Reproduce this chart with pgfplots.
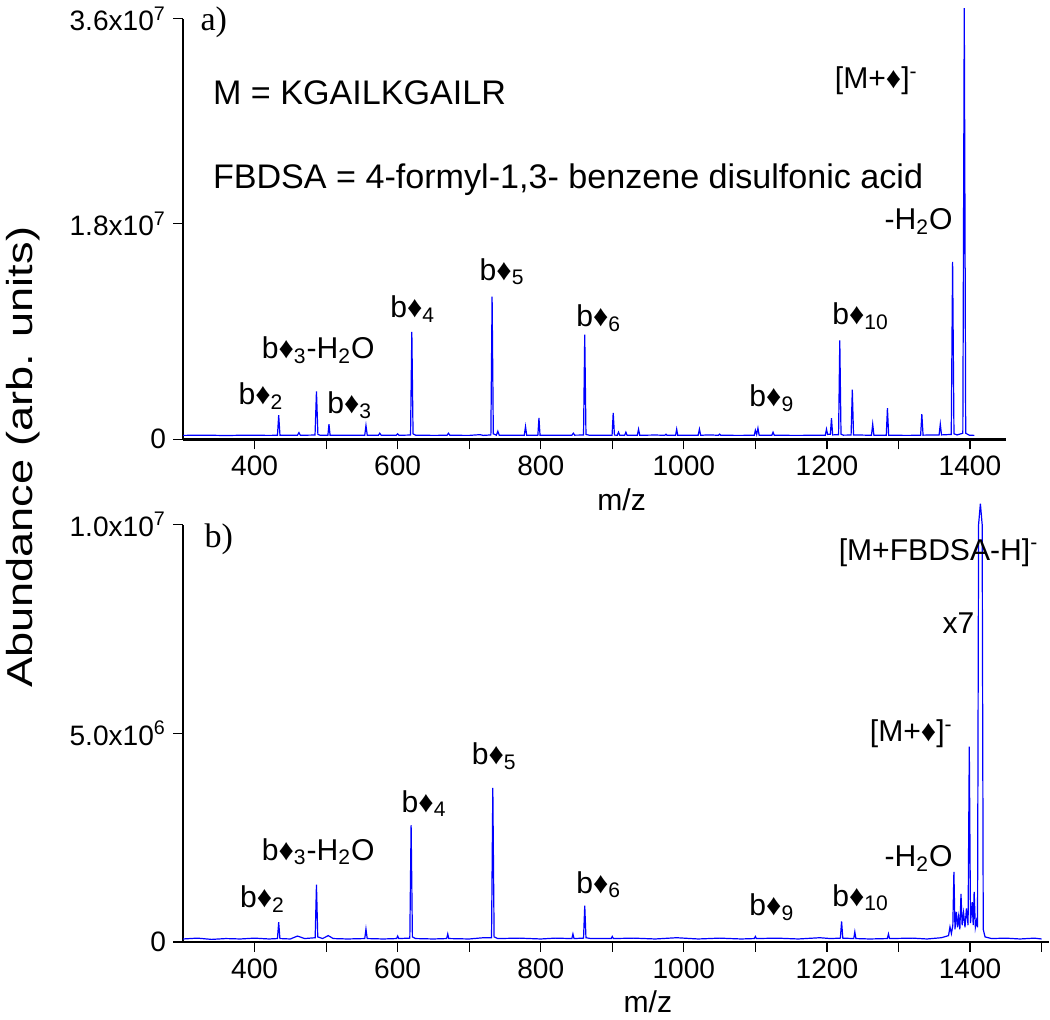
\documentclass[border=0pt]{standalone}
\usepackage{pgfplots}
\pgfplotsset{compat=1.18}
\usepackage{fontspec}
\setmainfont{Liberation Sans}
\newfontfamily\serifft{Liberation Serif}
\newfontfamily\widesans[FakeStretch=1.25]{Liberation Sans}
\newcommand{\tk}{\fontsize{14}{14}\selectfont}
\newcommand{\lb}{\fontsize{15}{15}\selectfont}
\newcommand{\an}{\fontsize{17}{17}\selectfont}
\newcommand{\bd}[1]{b♦\textsubscript{#1}}

\pgfplotsset{
  spec/.style={
    scale only axis, clip=false,
    axis x line*=bottom, axis y line*=left,
    axis line style={line width=1.3pt},
    tick align=outside, major tick length=5pt, minor tick length=5pt,
    every tick/.style={black, line width=0.6pt},
    xtick={400,600,...,1400},
    scaled y ticks=false,
    /pgf/number format/assume math mode=true,
    /pgf/number format/1000 sep={},
    ticklabel style={font=\tk},
    ymin=0,
  },
  trace/.style={blue, line width=0.6pt, no marks, sharp plot},
}

\begin{document}
\begin{tikzpicture}
% ---------- a) ----------
\begin{axis}[spec, at={(0,0)}, anchor=south west,
  width=410pt, height=209.5pt,
  xmin=300, xmax=1450, ymax=3.51e7,
  minor xtick={500,700,...,1300},
  ytick={0,1.8e7,3.51e7},
  yticklabels={0, 1.8x10\textsuperscript{7}, 3.6x10\textsuperscript{7}},
]
\addplot[trace] coordinates {
(300,3.2e5)(330,3.4e5)(360,3.1e5)(390,3.4e5)(420,3.2e5)(432,3.3e5)(433.7,2.0e6)(435.5,3.3e5)
(460,3.4e5)(462,5.5e5)(464,3.3e5)(484.5,3.5e5)(486.5,4.0e6)(488.5,4.0e5)(492,3.3e5)
(502.5,3.4e5)(504,1.26e6)(505.5,3.4e5)(530,3.3e5)(554,3.4e5)(555.7,1.15e6)(557.5,3.4e5)
(573,3.3e5)(575,5.0e5)(577,3.3e5)(598,3.3e5)(600,4.5e5)(602,3.3e5)
(618,3.5e5)(619.8,8.96e6)(621.5,4.5e5)(625,3.4e5)(650,3.2e5)(669,3.3e5)(671,5.0e5)(673,3.3e5)
(700,3.2e5)(715,3.8e5)(720,3.2e5)(730.3,3.6e5)(732,1.19e7)(733.7,4.5e5)(738,3.4e5)(740,6.7e5)(742,3.3e5)
(777,3.3e5)(778.7,1.06e6)(780.4,3.3e5)(796,3.4e5)(797.5,1.78e6)(799,3.3e5)
(843.5,3.4e5)(845.6,5.0e5)(847.5,3.4e5)(859.8,3.5e5)(861.5,8.73e6)(863.2,4.0e5)(868,3.3e5)
(899.7,3.3e5)(901.3,2.2e6)(903,3.5e5)(907,3.3e5)(908.7,5.9e5)(910.4,3.3e5)(917.3,3.3e5)(919,5.9e5)(920.7,3.3e5)
(935,3.3e5)(936.7,8.4e5)(938.4,3.3e5)(960,3.5e5)(973.5,3.3e5)(975,4.2e5)(976.5,3.3e5)
(988.5,3.3e5)(990,8.4e5)(991.5,3.3e5)(1020,3.3e5)(1021.8,8.4e5)(1023.5,3.3e5)(1035,3.6e5)
(1048.5,3.3e5)(1050,4.2e5)(1051.5,3.3e5)(1080,3.2e5)(1098.5,3.4e5)(1100,7.5e5)(1101.8,4.0e5)(1103.6,9.2e5)(1105.3,3.3e5)
(1123,3.3e5)(1124.7,5.9e5)(1126.4,3.3e5)(1160,3.2e5)(1197.8,3.4e5)(1199.4,8.4e5)(1201,4.0e5)
(1204.8,4.2e5)(1206.4,1.76e6)(1208,3.6e5)(1216.3,3.8e5)(1218,8.26e6)(1219.7,4.2e5)(1223,3.4e5)
(1233.8,3.5e5)(1235.5,4.13e6)(1237.2,3.6e5)(1262.3,3.3e5)(1264,1.26e6)(1265.7,3.3e5)
(1283,3.3e5)(1284.6,2.6e6)(1286.3,3.4e5)(1310,3.2e5)(1331,3.3e5)(1332.7,2.09e6)(1334.4,3.4e5)
(1350,3.6e5)(1356.8,3.5e5)(1358.5,1.26e6)(1360.2,3.6e5)(1373.8,4.0e5)(1375.7,1.48e7)(1377.6,4.5e5)
(1382,3.6e5)(1390,5.0e5)(1392,3.6e7)(1394,5.0e5)(1399,3.4e5)(1406,3.2e5)
};
\node[font=\serifft\an] at (axis cs:343,3.48e7) {a)};
\node[font=\an, anchor=base west] at (axis cs:332,2.796e7) {M = KGAILKGAILR};
\node[font=\an, anchor=base west] at (axis cs:332,2.096e7) {FBDSA = 4-formyl-1,3- benzene disulfonic acid};
\node[font=\lb] at (axis cs:1269,2.99e7) {[M+♦]\textsuperscript{-}};
\node[font=\lb] at (axis cs:1328,1.817e7) {-H\textsubscript{2}O};
\node[font=\lb] at (axis cs:409,3.6e6) {\bd{2}};
\node[font=\lb] at (axis cs:489,7.45e6) {\bd{3}-H\textsubscript{2}O};
\node[font=\lb] at (axis cs:533,2.85e6) {\bd{3}};
\node[font=\lb] at (axis cs:621,1.088e7) {\bd{4}};
\node[font=\lb] at (axis cs:746,1.398e7) {\bd{5}};
\node[font=\lb] at (axis cs:881,1.013e7) {\bd{6}};
\node[font=\lb] at (axis cs:1123,3.43e6) {\bd{9}};
\node[font=\lb] at (axis cs:1247,1.03e7) {\bd{10}};
\node[font=\lb] at ([yshift=-30pt]rel axis cs:0.533,0) {m/z};
\end{axis}

% ---------- b) ----------
\begin{axis}[spec, at={(0,-250.5pt)}, anchor=south west,
  width=431.4pt, height=208pt,
  xmin=300, xmax=1510, ymax=1e7,
  minor xtick={500,700,...,1500},
  ytick={0,5e6,1e7},
  yticklabels={0, 5.0x10\textsuperscript{6}, 1.0x10\textsuperscript{7}},
]
\addplot[trace] coordinates {
(300,7e4)(320,9e4)(340,6e4)(360,8e4)(380,7e4)(400,9e4)(420,7e4)(432,8e4)(433.7,4.7e5)(435.4,8e4)
(450,7e4)(460,1.4e5)(470,8e4)(484.7,1.0e5)(486.5,1.37e6)(488.3,1.2e5)(495,8e4)(503,1.5e5)(510,8e4)
(530,7e4)(554,8e4)(555.7,3.1e5)(557.4,8e4)(580,7e4)(598.5,8e4)(600,1.4e5)(601.5,8e4)
(617,9e4)(618.8,2.80e6)(620.6,1.2e5)(625,8e4)(650,7e4)(668.5,8e4)(670,1.9e5)(671.5,8e4)
(700,7e4)(720,1.0e5)(731.2,1.0e5)(733,3.69e6)(734.8,1.2e5)(740,8e4)(770,9e4)(800,7e4)(820,9e4)
(843.5,8e4)(845,1.9e5)(846.5,8e4)(859.8,9e4)(861.5,8.7e5)(863.2,1.0e5)(870,8e4)
(898.5,8e4)(900,1.3e5)(901.5,8e4)(930,9e4)(960,7e4)(990,1.0e5)(1020,7e4)(1050,9e4)(1080,7e4)
(1098.5,8e4)(1100,1.3e5)(1101.5,8e4)(1130,9e4)(1160,7e4)(1190,1.0e5)(1205,8e4)
(1218.8,9e4)(1220.5,4.9e5)(1222.2,9e4)(1237.5,8e4)(1239,2.4e5)(1240.5,8e4)(1260,7e4)
(1284.5,8e4)(1286,1.9e5)(1287.5,8e4)(1320,9e4)(1340,7e4)(1360,1.0e5)
(1370,1.5e5)(1372,3.6e5)(1374,2.0e5)(1376,4.0e5)(1377.5,1.68e6)(1379,3.0e5)(1381,7.2e5)(1382.5,3.5e5)
(1384,6.0e5)(1385.8,3.0e5)(1387.4,1.15e6)(1389,4.0e5)(1391,7.0e5)(1393,3.5e5)(1395,8.0e5)(1397.3,4.0e5)
(1399,4.68e6)(1400.7,4.5e5)(1403,9.5e5)(1404.5,4.0e5)(1405.8,1.2e6)(1407.5,3.5e5)(1409,5.0e5)
(1410.5,3.5e5)(1412,1.0e7)(1414.5,1.05e7)(1417,1.0e7)(1418.5,3.0e5)(1421,1.2e5)(1430,8e4)(1450,9e4)
(1470,7e4)(1490,9e4)(1500,7e4)
};
\node[font=\serifft\an] at (axis cs:350,9.64e6) {b)};
\node[font=\lb] at (axis cs:1356,9.33e6) {[M+FBDSA-H]\textsuperscript{-}};
\node[font=\lb] at (axis cs:1384,7.64e6) {x7};
\node[font=\lb] at (axis cs:1318,4.976e6) {[M+♦]\textsuperscript{-}};
\node[font=\lb] at (axis cs:1328,1.995e6) {-H\textsubscript{2}O};
\node[font=\lb] at (axis cs:411,1.034e6) {\bd{2}};
\node[font=\lb] at (axis cs:489,2.16e6) {\bd{3}-H\textsubscript{2}O};
\node[font=\lb] at (axis cs:637,3.317e6) {\bd{4}};
\node[font=\lb] at (axis cs:735,4.447e6) {\bd{5}};
\node[font=\lb] at (axis cs:881,1.37e6) {\bd{6}};
\node[font=\lb] at (axis cs:1123,8.4e5) {\bd{9}};
\node[font=\lb] at (axis cs:1247,1.058e6) {\bd{10}};
\node[font=\lb] at ([yshift=-30pt]rel axis cs:0.537,0) {m/z};
\end{axis}

\node[font=\widesans\fontsize{18}{18}\selectfont, rotate=90] at (-79.5pt,-9pt) {Abundance (arb. units)};
\end{tikzpicture}
\end{document}
